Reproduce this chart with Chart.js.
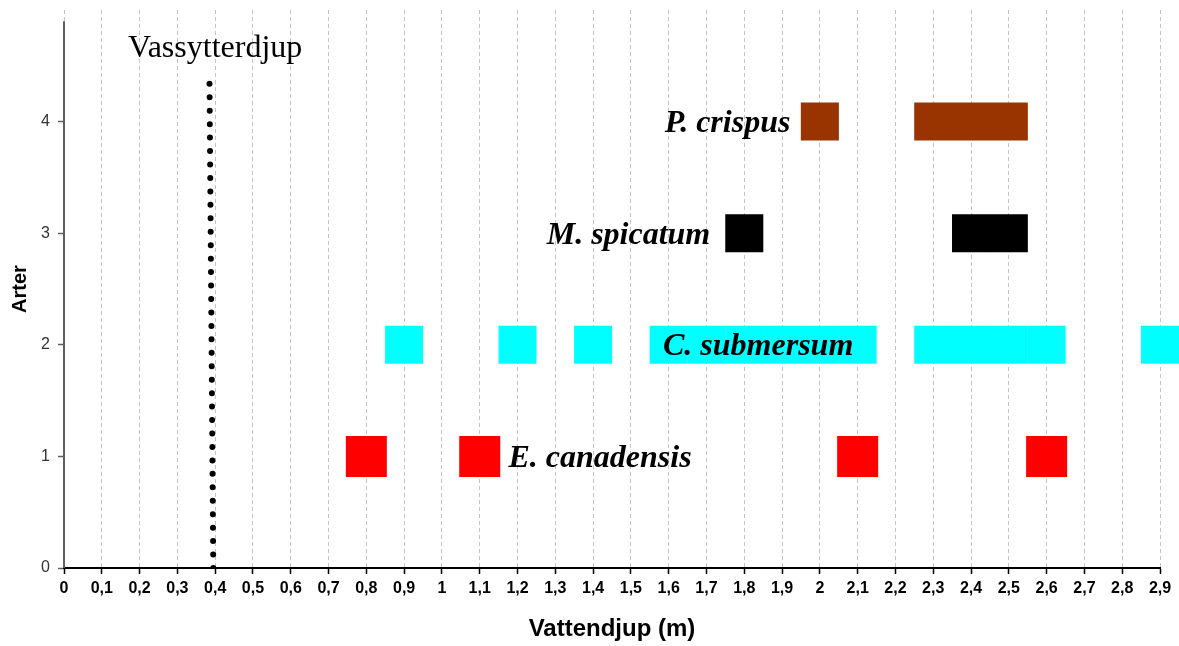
<!DOCTYPE html>
<html>
<head>
<meta charset="utf-8">
<script src="https://cdn.jsdelivr.net/npm/chart.js@4.4.0/dist/chart.umd.min.js"></script>
<style>
  html, body { margin: 0; padding: 0; background: #fff; }
</style>
</head>
<body>
<canvas id="depthChart" width="1179" height="646"></canvas>
<script>
// Species found at each depth (m), one row per species
const speciesNames = ['E. canadensis', 'C. submersum', 'M. spicatum', 'P. crispus'];
const canadensisDepths = [0.8, 1.1, 2.1, 2.6];
const submersumDepths = [0.9, 1.2, 1.4, 1.6, 1.7, 1.8, 1.9, 2.0, 2.1, 2.3, 2.4, 2.5, 2.6, 2.9];
const spicatumDepths = [1.8, 2.4, 2.5];
const crispusDepths = [2.0, 2.3, 2.4, 2.5];

// Reed belt outer edge (dotted line)
const reedLineX = [0.395, 0.385];
const reedLineY = [0, 4.35];
const reedLabel = 'Vassytterdjup';

const yTickValues = [0, 1, 2, 3, 4];

function rowPoints(depths, row) {
    return depths.map(d => ({ x: d, y: row }));
}

// Where the species names sit, in axis units
const nameAnchors = [
    { row: 1, x: 1.176, align: 'left' },
    { row: 2, x: 1.585, align: 'left' },
    { row: 3, x: 1.71, align: 'right' },
    { row: 4, x: 1.922, align: 'right' }
];

const labelPlugin = {
    id: 'speciesLabels',
    afterDatasetsDraw(chart) {
        const { ctx, scales: { x, y }, chartArea } = chart;
        ctx.save();

        // y axis line stops a bit below the top of the plot
        ctx.strokeStyle = '#606060';
        ctx.lineWidth = 2;
        ctx.beginPath();
        ctx.moveTo(chartArea.left, y.getPixelForValue(0));
        ctx.lineTo(chartArea.left, y.getPixelForValue(4.9));
        ctx.stroke();

        const size = 32;
        ctx.fillStyle = '#000';
        ctx.font = 'bold italic ' + size + 'px "Liberation Serif", "Times New Roman", serif';
        ctx.textBaseline = 'alphabetic';
        nameAnchors.forEach(a => {
            ctx.textAlign = a.align;
            ctx.fillText(speciesNames[a.row - 1], x.getPixelForValue(a.x), y.getPixelForValue(a.row) + size * 0.33);
        });

        ctx.font = '32px "Liberation Serif", "Times New Roman", serif';
        ctx.textAlign = 'center';
        ctx.fillText(reedLabel, x.getPixelForValue(0.4), y.getPixelForValue(4.58));
        ctx.restore();
    }
};

const squareDataset = (depths, row, color, radius) => ({
    type: 'scatter',
    data: rowPoints(depths, row),
    pointStyle: 'rect',
    pointRadius: radius,
    backgroundColor: color,
    borderWidth: 0,
    clip: false
});

new Chart(document.getElementById('depthChart'), {
    data: {
        datasets: [
            {
                type: 'line',
                data: reedLineX.map((v, i) => ({ x: v, y: reedLineY[i] })),
                borderColor: '#000',
                borderWidth: 6,
                borderDash: [0, 13.45],
                borderCapStyle: 'round',
                pointRadius: 0,
                fill: false
            },
            squareDataset(canadensisDepths, 1, '#FF0000', 29),
            squareDataset(submersumDepths, 2, '#00FFFF', 26.9),
            squareDataset(spicatumDepths, 3, '#000000', 26.9),
            squareDataset(crispusDepths, 4, '#993300', 26.9)
        ]
    },
    options: {
        responsive: false,
        animation: false,
        events: [],
        layout: { autoPadding: false, padding: { top: 10, right: 19, left: 0, bottom: 0 } },
        plugins: {
            legend: { display: false },
            tooltip: { enabled: false }
        },
        scales: {
            x: {
                type: 'linear',
                min: 0,
                max: 2.9,
                afterFit(scale) {
                    scale.height = 78;
                    scale.paddingLeft = 0;
                    scale.paddingRight = 0;
                },
                border: { display: true, color: '#000', width: 2, dash: [4, 3] },
                grid: {
                    color: '#c4c4c4',
                    lineWidth: 1,
                    drawTicks: true,
                    tickLength: 6,
                    tickColor: '#000',
                    tickWidth: 1.5,
                    tickBorderDash: []
                },
                ticks: {
                    stepSize: 0.1,
                    autoSkip: false,
                    maxRotation: 0,
                    padding: 5,
                    color: '#000',
                    font: { family: '"Liberation Sans Narrow", "Liberation Sans", Arial', weight: 'bold', size: 16 },
                    callback: v => String(Number(v.toFixed(1))).replace('.', ',')
                },
                title: {
                    display: true,
                    text: 'Vattendjup (m)',
                    color: '#000',
                    padding: { top: 0, bottom: 2 },
                    font: { family: '"Liberation Sans", Arial', weight: 'bold', size: 24 }
                }
            },
            y: {
                type: 'linear',
                min: 0,
                max: 5,
                afterFit(scale) {
                    scale.width = 64;
                    scale.paddingTop = 0;
                    scale.paddingBottom = 0;
                },
                afterBuildTicks(scale) {
                    scale.ticks = yTickValues.map(v => ({ value: v }));
                },
                border: { display: false },
                grid: {
                    drawOnChartArea: false,
                    drawTicks: true,
                    tickLength: 6,
                    tickColor: '#606060',
                    tickWidth: 1.5
                },
                ticks: {
                    padding: 8,
                    color: '#333',
                    font: { family: '"Liberation Sans Narrow", "Liberation Sans", Arial', size: 16 }
                },
                title: {
                    display: true,
                    text: 'Arter',
                    color: '#000',
                    padding: { top: 8, bottom: 0 },
                    font: { family: '"Liberation Sans", Arial', weight: 'bold', size: 20 }
                }
            }
        }
    },
    plugins: [labelPlugin]
});
</script>
</body>
</html>
